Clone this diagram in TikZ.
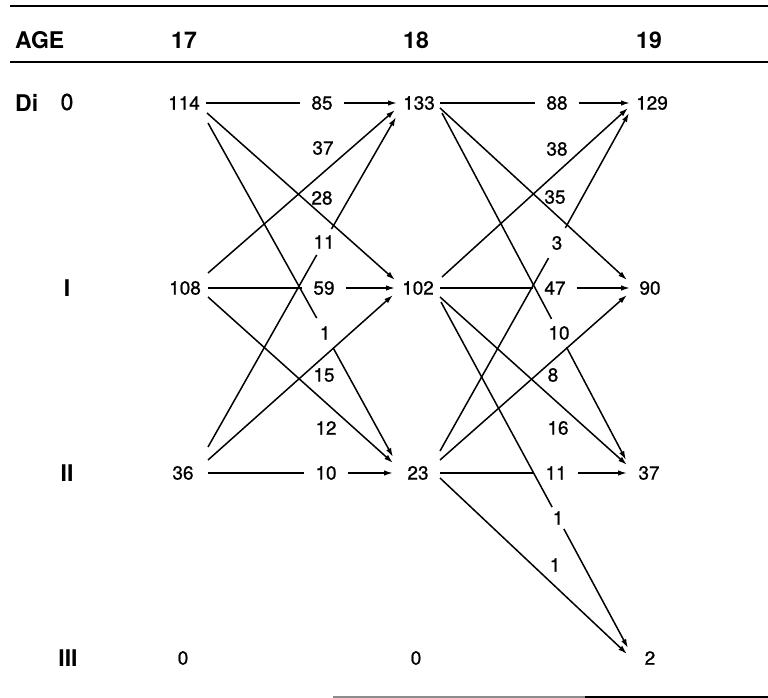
\documentclass[tikz,border=0pt]{standalone}
\usepackage{fontspec}
\setmainfont{TeX Gyre Heros}
\newfontfamily\numfont[FakeBold=0.9]{TeX Gyre Heros}
\usetikzlibrary{arrows.meta}

\tikzset{
  num/.style={inner sep=0pt, font=\numfont\fontsize{19}{19}\selectfont},
  lab/.style={num, inner xsep=11pt, inner ysep=0pt},
  cut/.style={num, inner sep=#1},
  hdr/.style={inner sep=0pt, font=\fontsize{23}{23}\selectfont\bfseries},
  cls/.style={inner sep=0pt, font=\numfont\fontsize{23}{23}\selectfont},
  rule/.style={line width=2pt},
  flow/.style={line width=1.5pt},
  arr/.style={flow, -{Latex[length=9pt,width=5.5pt]}}
}

\begin{document}
\begin{tikzpicture}[x=1pt, y=-1pt]
\useasboundingbox (0,0) rectangle (768,698);

% table rules
\draw[rule] (10,6) -- (768,6);
\draw[rule] (10,62) -- (768,62);
\draw[rule, black!45] (333,697) -- (585,697);
\draw[rule] (585,697) -- (768,697);

% header
\node[hdr, anchor=west] (age) at (15,40) {AGE};
\node[hdr] (h17) at (184,40) {17};
\node[hdr] (h18) at (416,40) {18};
\node[hdr] (h19) at (649,40) {19};

% class labels
\node[hdr, anchor=west] (di) at (15,103) {Di};
\node[cls] (r0) at (67,102) {0};
\node[hdr] (r1) at (67,288) {I};
\node[hdr] (r2) at (67,473) {II};
\node[hdr] (r3) at (68,658) {III};

% numbers per class and age
\node[num] (a0) at (184,103) {114};
\node[num] (a1) at (185,288) {108};
\node[num] (a2) at (183,473) {36};
\node[num] (a3) at (183,658) {0};
\node[num] (b0) at (419,103) {133};
\node[num] (b1) at (418,288) {102};
\node[num] (b2) at (418,473) {23};
\node[num] (b3) at (416,658) {0};
\node[num] (c0) at (652,103) {129};
\node[num] (c1) at (650,288) {90};
\node[num] (c2) at (649,473) {37};
\node[num] (c3) at (650,658) {2};

% ---- transitions 17 -> 18 ----
\node[lab] (l85) at (322,103) {85};
\node[num] (l37) at (323,148) {37};
\node[num] (l28) at (322,198) {28};
\node[cut=6pt] (l11a) at (324,242) {11};
\node[lab] (l59) at (324,288) {59};
\node[cut=8pt] (l1a) at (325,333) {1};
\node[num] (l15) at (324,375) {15};
\node[num] (l12) at (326,428) {12};
\node[lab] (l10a) at (326,473) {10};

\draw[flow] ([shift={(22,0)}]a0.center) -- (l85.west);
\draw[arr] (l85.east) -- ([shift={(-22,0)}]b0.center);
\draw[arr] ([shift={(23,10)}]a0.center) -- ([shift={(-23,-8)}]b1.center);
\draw[flow] ([shift={(24,20)}]a0.center) -- (l1a);
\draw[arr] (l1a) -- ([shift={(-25,-16)}]b2.center);

\draw[arr] ([shift={(23,-15)}]a1.center) -- ([shift={(-24,7)}]b0.center);
\draw[flow] ([shift={(23,0)}]a1.center) -- (l59.west);
\draw[arr] (l59.east) -- ([shift={(-23,0)}]b1.center);
\draw[arr] ([shift={(23,9)}]a1.center) -- ([shift={(-25,-10)}]b2.center);

\draw[flow] ([shift={(25,-26)}]a2.center) -- (l11a);
\draw[arr] (l11a) -- ([shift={(-23,14)}]b0.center);
\draw[arr] ([shift={(25,-13)}]a2.center) -- ([shift={(-25,7)}]b1.center);
\draw[flow] ([shift={(25,0)}]a2.center) -- (l10a.west);
\draw[arr] (l10a.east) -- ([shift={(-25,0)}]b2.center);

% ---- transitions 18 -> 19 ----
\node[lab] (l88) at (557,103) {88};
\node[num] (l38) at (557,149) {38};
\node[num] (l35) at (555,197) {35};
\node[cut=8pt] (l3) at (557,243) {3};
\node[lab] (l47) at (555,288) {47};
\node[cut=7pt] (l10b) at (559,333) {10};
\node[num] (l8) at (553,375) {8};
\node[num] (l16) at (558,428) {16};
\node[lab] (l11b) at (556,473) {11};
\node[cut=4pt] (l1b) at (558,518) {1};
\node[num] (l1c) at (555,565) {1};

\draw[flow] ([shift={(21,0)}]b0.center) -- (l88.west);
\draw[arr] (l88.east) -- ([shift={(-22,0)}]c0.center);
\draw[arr] ([shift={(21,5)}]b0.center) -- ([shift={(-23,-8)}]c1.center);
\draw[flow] ([shift={(23,10)}]b0.center) -- (l10b);
\draw[arr] (l10b) -- ([shift={(-23,-13)}]c2.center);

\draw[arr] ([shift={(24,-11)}]b1.center) -- ([shift={(-24,5)}]c0.center);
\draw[flow] ([shift={(22,0)}]b1.center) -- (l47.west);
\draw[arr] (l47.east) -- ([shift={(-20,0)}]c1.center);
\draw[arr] ([shift={(22,9)}]b1.center) -- ([shift={(-22,-8)}]c2.center);
\draw[flow] ([shift={(23,14)}]b1.center) -- (l1b);
\draw[arr] (l1b) -- ([shift={(-22,-10)}]c3.center);

\draw[flow] ([shift={(22,-22)}]b2.center) -- (l3);
\draw[arr] (l3) -- ([shift={(-23,10)}]c0.center);
\draw[arr] ([shift={(22,-13)}]b2.center) -- ([shift={(-23,7)}]c1.center);
\draw[flow] ([shift={(22,0)}]b2.center) -- (l11b.west);
\draw[arr] (l11b.east) -- ([shift={(-22,0)}]c2.center);
\draw[arr] ([shift={(22,5)}]b2.center) -- ([shift={(-23,-4)}]c3.center);
\end{tikzpicture}
\end{document}
